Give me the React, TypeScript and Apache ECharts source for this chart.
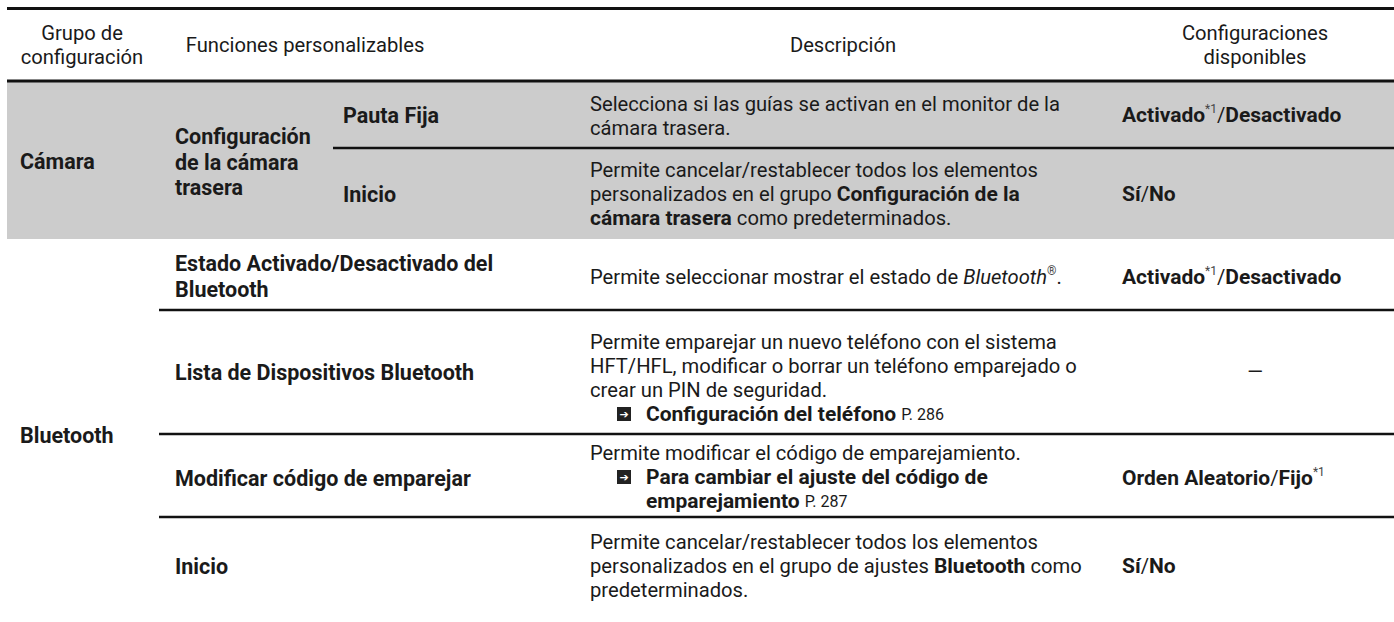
import React, { useEffect, useRef } from "react";
import * as echarts from "echarts";

const headers = ["Grupo de\nconfiguración", "Funciones personalizables", "Descripción", "Configuraciones\ndisponibles"];
const groups = ["Cámara", "Bluetooth"];
const subGroups = ["Configuración\nde la cámara\ntrasera"];
const functionNames = [
  "Pauta Fija",
  "Inicio",
  "Estado Activado/Desactivado del\nBluetooth",
  "Lista de Dispositivos Bluetooth",
  "Modificar código de emparejar",
  "Inicio",
];
const descriptions = [
  "Selecciona si las guías se activan en el monitor de la\ncámara trasera.",
  "Permite cancelar/restablecer todos los elementos\npersonalizados en el grupo {b|Configuración de la}\n{b|cámara trasera} como predeterminados.",
  "Permite seleccionar mostrar el estado de {i|Bluetooth}{sup|®}.",
  "Permite emparejar un nuevo teléfono con el sistema\nHFT/HFL, modificar o borrar un teléfono emparejado o\ncrear un PIN de seguridad.",
  "Permite modificar el código de emparejamiento.",
  "Permite cancelar/restablecer todos los elementos\npersonalizados en el grupo de ajustes {b|Bluetooth} como\npredeterminados.",
];
const references = [
  null,
  null,
  null,
  "{b|Configuración del teléfono} {s|P. 286}",
  "{b|Para cambiar el ajuste del código de}\n{b|emparejamiento} {s|P. 287}",
  null,
];
const settings = [
  "{b|Activado}{sup|*1}/{b|Desactivado}",
  "{b|Sí}/{b|No}",
  "{b|Activado}{sup|*1}/{b|Desactivado}",
  "—",
  "{b|Orden Aleatorio}/{b|Fijo}{sup|*1}",
  "{b|Sí}/{b|No}",
];

const FONT = "Roboto, 'Open Sans', sans-serif";
const FS = 20.2;
const BFS = 21.5;
const LH = 24;
const BLH = 25.5;
const INK = "#1a1a1a";

const richStyles = {
  b: { fontWeight: "bold", fontFamily: FONT, fontSize: 21, lineHeight: LH, fill: INK },
  i: { fontStyle: "italic", fontFamily: FONT, fontSize: FS, lineHeight: LH, fill: INK },
  s: { fontFamily: FONT, fontSize: 16, lineHeight: LH, fill: INK },
  sup: { fontFamily: FONT, fontSize: 12, lineHeight: LH, fill: "#444", verticalAlign: "top" },
  ic: {
    fontFamily: "'DejaVu Sans', sans-serif",
    fontSize: 11,
    fill: "#ffffff",
    backgroundColor: "#222222",
    width: 14,
    height: 14,
    lineHeight: 14,
    align: "center",
  },
};

function txt(text: string, x: number, y: number, opts: any = {}) {
  return {
    type: "text",
    x,
    y,
    z: 10,
    style: {
      text,
      fill: INK,
      fontFamily: FONT,
      fontSize: opts.bold ? BFS : FS,
      lineHeight: opts.lh || LH,
      fontWeight: opts.bold ? "bold" : "normal",
      align: opts.align || "left",
      verticalAlign: "middle",
      rich: richStyles,
    },
  };
}

function hline(x1: number, x2: number, y: number, w: number) {
  return {
    type: "line",
    z: 5,
    shape: { x1, y1: y, x2, y2: y },
    style: { stroke: "#111111", lineWidth: w },
  };
}

export default function App() {
  const ref = useRef<HTMLDivElement>(null);
  useEffect(() => {
    const chart = echarts.init(ref.current!, null, { renderer: "svg" });

    const W = 1394;
    const colX = [20, 175, 343, 590, 1122];
    const headerCx = [82, 305, 843, 1255];
    const headerCy = 45;
    const rowLines = [148, 310, 434, 517];
    const rowCy = [116, 194, 276.5, 378, 477, 566];
    const labelCy = [115, 194, 276.5, 372, 478, 566];
    const funcX = [colX[2], colX[2], colX[1], colX[1], colX[1], colX[1]];

    const elements: any[] = [];
    elements.push({
      type: "rect",
      z: 1,
      shape: { x: 7, y: 82, width: W - 7, height: 157 },
      style: { fill: "#cccccc" },
    });
    elements.push(hline(7, W, 8.5, 3));
    elements.push(hline(7, W, 81, 3));
    elements.push(hline(333, W, rowLines[0], 2.5));
    elements.push(hline(159, W, rowLines[1], 2.5));
    elements.push(hline(159, W, rowLines[2], 2.5));
    elements.push(hline(159, W, rowLines[3], 2.5));

    headers.forEach((h, i) =>
      elements.push(txt(h, headerCx[i], headerCy, { align: "center", lh: 24 }))
    );

    elements.push(txt(groups[0], colX[0], 161, { bold: true }));
    elements.push(txt(groups[1], colX[0], 435, { bold: true }));
    elements.push(txt(subGroups[0], colX[1], 162, { bold: true, lh: BLH }));

    functionNames.forEach((f, i) =>
      elements.push(txt(f, funcX[i], labelCy[i], { bold: true, lh: BLH }))
    );

    descriptions.forEach((d, i) => {
      const ref2 = references[i];
      const nDesc = d.split("\n").length;
      const nRef = ref2 ? ref2.split("\n").length : 0;
      const total = nDesc + nRef;
      const top = rowCy[i] - (total * LH) / 2;
      elements.push(txt(d, colX[3], top + (nDesc * LH) / 2));
      if (ref2) {
        const refTop = top + nDesc * LH;
        elements.push(txt("{ic|➔}", colX[3] + 27, refTop + LH / 2));
        elements.push(txt(ref2, colX[3] + 56, refTop + (nRef * LH) / 2));
      }
    });

    settings.forEach((s, i) => {
      if (s === "—") elements.push(txt(s, 1255, labelCy[i], { align: "center" }));
      else elements.push(txt(s, colX[4], labelCy[i]));
    });

    chart.setOption({
      animation: false,
      backgroundColor: "#ffffff",
      graphic: { elements },
    });
    return () => chart.dispose();
  }, []);
  return (
    <div
      ref={ref}
      style={{ position: "absolute", left: 0, top: 0, width: 1394, height: 622 }}
    />
  );
}
